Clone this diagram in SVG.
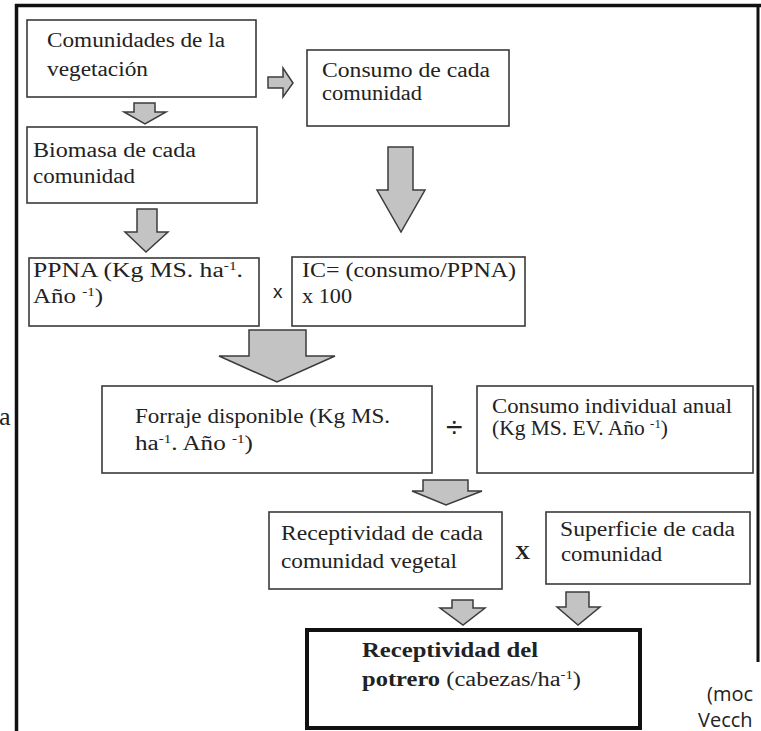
<svg xmlns="http://www.w3.org/2000/svg" width="761" height="731" viewBox="0 0 761 731">
<style>
.box{fill:#fff;stroke:#3a3a3a;stroke-width:1.6}
.t{font-family:"Liberation Serif","Times New Roman",serif;font-size:20px;fill:#222}
.b{font-weight:bold}
.sup{font-size:12px}
.arr{fill:#c3c3c3;stroke:#3c3c3c;stroke-width:1.5;stroke-linejoin:miter}
.frame{stroke:#111;stroke-width:3.5;fill:none}
.op{font-family:"Liberation Sans",Arial,sans-serif;fill:#222}
.note{font-family:"Open Sans","Liberation Sans",sans-serif;font-size:20px;fill:#222}
</style>
<rect width="761" height="731" fill="#fff"/>
<g id="frame">
<line class="frame" x1="16.5" y1="4" x2="16.5" y2="731"/>
<line class="frame" x1="15" y1="5.5" x2="761" y2="5.5"/>
<line class="frame" x1="758" y1="4" x2="758" y2="662" style="stroke-width:3"/>
</g>
<g id="connectors">
<polygon class="arr" points="268,77 283,77 283,68 293,83 283,97 283,88 268,88"/>
<polygon class="arr" points="134,103 155,103 155,112 166,112 145,124 124,112 134,112"/>
<polygon class="arr" points="137,209 157,209 157,232 168,232 146,252 125,232 137,232"/>
<polygon class="arr" points="388,147 413,147 413,190 425,190 401,232 377,190 388,190"/>
<polygon class="arr" points="249,330 306,330 306,356 335,356 277,382 219,356 249,356"/>
<polygon class="arr" points="423,480 468,480 468,491 482,491 446,505 412,491 423,491"/>
<polygon class="arr" points="452,600 473,600 473,608 485,608 463,625 440,608 452,608"/>
<polygon class="arr" points="566,592 589,592 589,607 600,607 578,625 557,607 566,607"/>
</g>
<g id="n1">
<rect class="box" x="27" y="20" width="229" height="77"/>
<text class="t" x="47" y="47" textLength="178" lengthAdjust="spacingAndGlyphs">Comunidades de la</text>
<text class="t" x="47" y="76" textLength="101" lengthAdjust="spacingAndGlyphs">vegetación</text>
</g>
<g id="n2">
<rect class="box" x="307" y="50" width="202" height="76"/>
<text class="t" x="322" y="77" textLength="168" lengthAdjust="spacingAndGlyphs">Consumo de cada</text>
<text class="t" x="322" y="100" textLength="100" lengthAdjust="spacingAndGlyphs">comunidad</text>
</g>
<g id="n3">
<rect class="box" x="27" y="127" width="230" height="76"/>
<text class="t" x="33" y="157" textLength="163" lengthAdjust="spacingAndGlyphs">Biomasa de cada</text>
<text class="t" x="33" y="183" textLength="102" lengthAdjust="spacingAndGlyphs">comunidad</text>
</g>
<g id="n4">
<rect class="box" x="29" y="258" width="230" height="68"/>
<text class="t" x="33" y="277" textLength="210" lengthAdjust="spacingAndGlyphs">PPNA (Kg MS. ha<tspan class="sup" dy="-7">-1</tspan><tspan dy="7">.</tspan></text>
<text class="t" x="33" y="303" textLength="70" lengthAdjust="spacingAndGlyphs">Año <tspan class="sup" dy="-7">-1</tspan><tspan dy="7">)</tspan></text>
</g>
<text class="op" x="273" y="298" style="font-size:19px">x</text>
<g id="n5">
<rect class="box" x="292" y="257" width="233" height="69"/>
<text class="t" x="302" y="277" textLength="214" lengthAdjust="spacingAndGlyphs">IC= (consumo/PPNA)</text>
<text class="t" x="302" y="303" textLength="50" lengthAdjust="spacingAndGlyphs">x 100</text>
</g>
<g id="n6">
<rect class="box" x="102" y="386" width="330" height="87"/>
<text class="t" x="135" y="423" textLength="255" lengthAdjust="spacingAndGlyphs">Forraje disponible (Kg MS.</text>
<text class="t" x="135" y="450" textLength="118" lengthAdjust="spacingAndGlyphs">ha<tspan class="sup" dy="-7">-1</tspan><tspan dy="7">. Año </tspan><tspan class="sup" dy="-7">-1</tspan><tspan dy="7">)</tspan></text>
</g>
<text class="op" x="446" y="437" style="font-size:30px">÷</text>
<g id="n7">
<rect class="box" x="477" y="386" width="276" height="87"/>
<text class="t" x="492" y="413" textLength="240" lengthAdjust="spacingAndGlyphs">Consumo individual anual</text>
<text class="t" x="492" y="435" textLength="176" lengthAdjust="spacingAndGlyphs">(Kg MS. EV. Año <tspan class="sup" dy="-7">-1</tspan><tspan dy="7">)</tspan></text>
</g>
<g id="n8">
<rect class="box" x="269" y="512" width="233" height="77"/>
<text class="t" x="281" y="540" textLength="202" lengthAdjust="spacingAndGlyphs">Receptividad de cada</text>
<text class="t" x="281" y="568" textLength="176" lengthAdjust="spacingAndGlyphs">comunidad vegetal</text>
</g>
<text class="t b" x="515" y="559" style="font-size:18px" textLength="15" lengthAdjust="spacingAndGlyphs">X</text>
<g id="n9">
<rect class="box" x="546" y="512" width="204" height="72"/>
<text class="t" x="560" y="536" textLength="175" lengthAdjust="spacingAndGlyphs">Superficie de cada</text>
<text class="t" x="561" y="561" textLength="101" lengthAdjust="spacingAndGlyphs">comunidad</text>
</g>
<g id="n10">
<rect x="307" y="630" width="333" height="98" fill="#fff" stroke="#111" stroke-width="4"/>
<text class="t b" x="362" y="657" textLength="176" lengthAdjust="spacingAndGlyphs">Receptividad del</text>
<text class="t" x="362" y="686" textLength="219" lengthAdjust="spacingAndGlyphs"><tspan class="b">potrero</tspan> (cabezas/ha<tspan class="sup" dy="-7">-1</tspan><tspan dy="7">)</tspan></text>
</g>
<text class="t" x="-1" y="425" style="font-size:26px">a</text>
<text class="note" x="707" y="701">(moc</text>
<text class="note" x="698" y="727">Vecch</text>
</svg>
